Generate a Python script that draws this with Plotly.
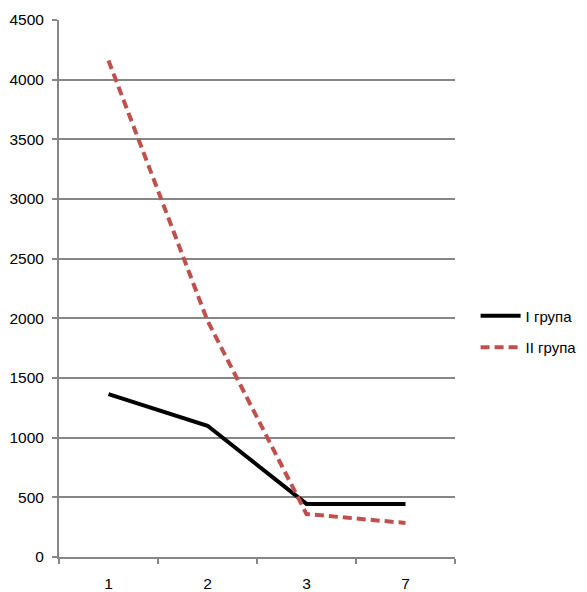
import plotly.graph_objects as go

categories = ["1", "2", "3", "7"]
group1 = [1365, 1100, 445, 445]
group2 = [4160, 1980, 360, 285]
names = ["I група", "II група"]

fig = go.Figure()
fig.add_trace(go.Scatter(x=categories, y=group1, mode="lines", name=names[0],
                         legendgroup="g1",
                         line=dict(color="#000000", width=4)))
fig.add_trace(go.Scatter(x=categories, y=group2, mode="lines", name=names[1],
                         legendgroup="g2",
                         line=dict(color="#C0504D", width=4, dash="9px,5px")))

fig.update_layout(
    width=587, height=592,
    margin=dict(l=51, r=140, t=12, b=43),
    paper_bgcolor="white", plot_bgcolor="white",
    font=dict(family="Liberation Sans, Arial, sans-serif", size=15.5, color="#000"),
    showlegend=True,
    legend=dict(x=1.052, y=0.42, xanchor="left", yanchor="middle",
                font=dict(size=15), itemwidth=40, traceorder="grouped",
                tracegroupgap=9, borderwidth=0),
    xaxis=dict(type="category", range=[-0.5, 3.5], automargin=False,
               showgrid=False, showline=True, linecolor="#868686",
               linewidth=2, ticks="outside", tickson="boundaries", ticklen=5,
               tickcolor="#868686", tickwidth=2, zeroline=False,
               ticklabelstandoff=11),
    yaxis=dict(range=[0, 4500], dtick=500, automargin=False,
               showgrid=True, gridcolor="#868686",
               gridwidth=1.5, showline=True, linecolor="#868686", linewidth=2,
               ticks="outside", ticklen=5, tickcolor="#868686", tickwidth=2,
               zeroline=False, ticklabelstandoff=5),
)
fig.write_html("out.html")
